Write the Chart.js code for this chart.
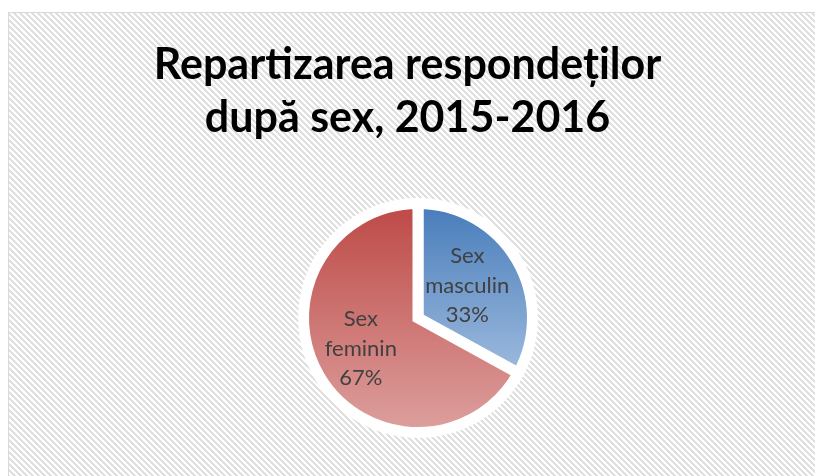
<!DOCTYPE html>
<html><head><meta charset="utf-8">
<script src="https://cdn.jsdelivr.net/npm/chart.js@4.4.1/dist/chart.umd.min.js"></script>
<style>html,body{margin:0;padding:0;background:#fff}#c{display:block}</style>
</head><body>
<canvas id="c" width="815" height="476"></canvas>
<script>
// ---- data ----
const titleLines = ["Repartizarea respondeților", "după sex, 2015-2016"];
const categories = ["Sex masculin", "Sex feminin"];
const shares = [33, 67];
const topColors = ["#4A7EBB", "#BE4B48"];
const bottomColors = ["#9CB9DD", "#DC9E9C"];

// ---- geometry / style ----
const PIE_RADIUS = 114.5;
const BORDER_W = 11;
const LABEL_FRACTION = [0.5, 0.58];

function sliceYRange(chart, i) {
  const ca = chart.chartArea;
  const cx = (ca.left + ca.right) / 2, cy = (ca.top + ca.bottom) / 2;
  const total = shares.reduce((a, b) => a + b, 0);
  let start = -Math.PI / 2;
  for (let k = 0; k < i; k++) start += shares[k] / total * 2 * Math.PI;
  const end = start + shares[i] / total * 2 * Math.PI;
  let yMin = cy, yMax = cy;
  for (let s = 0; s <= 60; s++) {
    const a = start + (end - start) * s / 60;
    const y = cy + Math.sin(a) * (PIE_RADIUS - BORDER_W / 2);
    yMin = Math.min(yMin, y); yMax = Math.max(yMax, y);
  }
  return [yMin, yMax];
}

const bgPlugin = {
  id: 'bgPattern',
  beforeDraw(chart) {
    const ctx = chart.ctx;
    ctx.save();
    ctx.fillStyle = '#ffffff';
    ctx.fillRect(0, 0, chart.width, chart.height);
    const p = document.createElement('canvas');
    p.width = 6; p.height = 6;
    const pc = p.getContext('2d');
    pc.fillStyle = '#ffffff'; pc.fillRect(0, 0, 6, 6);
    pc.fillStyle = '#e0e0e0';
    for (let y = 0; y < 6; y++) for (let x = 0; x < 6; x++) {
      if (((x - y) % 6 + 6) % 6 < 3) pc.fillRect(x, y, 1, 1);
    }
    ctx.fillStyle = ctx.createPattern(p, 'repeat');
    ctx.fillRect(8, 12, chart.width, chart.height);
    ctx.strokeStyle = '#d9d9d9';
    ctx.lineWidth = 1;
    ctx.strokeRect(8.5, 12.5, chart.width + 10, chart.height + 10);
    ctx.restore();
  }
};

const textPlugin = {
  id: 'texts',
  afterDatasetsDraw(chart) {
    const ctx = chart.ctx;
    ctx.save();
    // title
    ctx.fillStyle = '#000000';
    ctx.font = 'bold 43px Lato';
    ctx.textAlign = 'center';
    ctx.textBaseline = 'alphabetic';
    const tb = [79, 132];
    titleLines.forEach((t, i) => ctx.fillText(t, chart.width / 2, tb[i]));
    // slice labels
    const meta = chart.getDatasetMeta(0);
    const total = shares.reduce((a, b) => a + b, 0);
    ctx.font = '22px Lato';
    ctx.fillStyle = '#404040';
    meta.data.forEach((arc, i) => {
      const {x, y, startAngle, endAngle, outerRadius} = arc.getProps(['x', 'y', 'startAngle', 'endAngle', 'outerRadius'], true);
      const mid = (startAngle + endAngle) / 2;
      const ax = x + Math.cos(mid) * outerRadius * LABEL_FRACTION[i];
      const ay = y + Math.sin(mid) * outerRadius * LABEL_FRACTION[i];
      const words = categories[i].split(' ');
      const lines = [words[0], words.slice(1).join(' '), Math.round(shares[i] / total * 100) + '%'];
      const base = ay + 4;
      lines.forEach((l, k) => ctx.fillText(l, ax, base + (k - 1) * 29.5));
    });
    ctx.restore();
  }
};

new Chart(document.getElementById('c'), {
  type: 'pie',
  data: {
    labels: categories,
    datasets: [{
      data: shares,
      borderColor: '#ffffff',
      borderWidth: BORDER_W,
      borderJoinStyle: 'miter',
      backgroundColor: (c) => {
        const chart = c.chart;
        if (!chart.chartArea || c.dataIndex === undefined) return topColors[c.dataIndex || 0];
        const [y0, y1] = sliceYRange(chart, c.dataIndex);
        const g = chart.ctx.createLinearGradient(0, y0, 0, y1);
        g.addColorStop(0, topColors[c.dataIndex]);
        g.addColorStop(1, bottomColors[c.dataIndex]);
        return g;
      }
    }]
  },
  options: {
    responsive: false,
    animation: false,
    devicePixelRatio: 1,
    radius: PIE_RADIUS,
    layout: { padding: { left: 21, right: 0, top: 160, bottom: 0 } },
    plugins: { legend: { display: false }, tooltip: { enabled: false }, title: { display: false } },
    events: []
  },
  plugins: [bgPlugin, textPlugin]
});
</script>
</body></html>
